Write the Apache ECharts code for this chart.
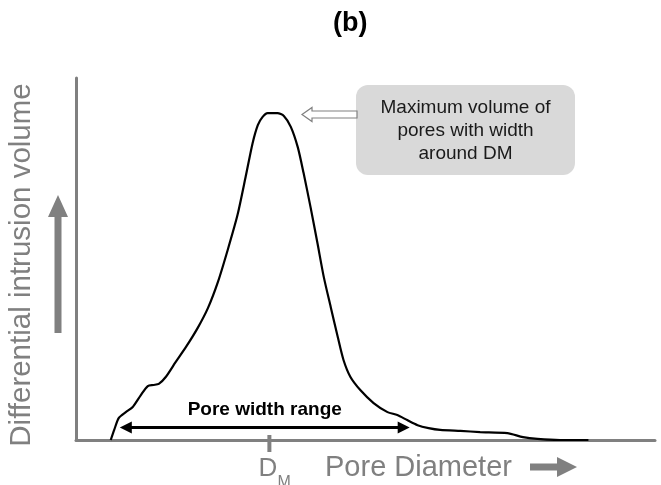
<!DOCTYPE html>
<html>
<head>
<meta charset="utf-8">
<script src="https://cdn.jsdelivr.net/npm/echarts@6/dist/echarts.min.js"></script>
<style>html,body{margin:0;padding:0;background:#fff}#c{width:661px;height:485px}</style>
</head>
<body>
<div id="c"></div>
<script>
// Pore diameter (arbitrary units, 0-100)
const poreDiameter = [6.0, 6.6, 7.4, 8.6, 9.8, 11.2, 12.4, 13.4, 14.3, 15.5, 17.2, 19.0, 21.0, 22.8, 24.5, 26.2, 27.9, 29.3, 30.5, 31.4, 32.2, 33.1, 34.0, 34.8, 35.9, 37.1, 38.3, 39.3, 40.5, 41.7, 42.8, 44.0, 45.2, 46.2, 47.4, 49.1, 51.4, 53.8, 55.5, 57.2, 59.0, 60.9, 62.9, 66.4, 69.8, 74.5, 77.2, 79.7, 83.6, 88.5];
// Differential intrusion volume (arbitrary units, 0-100)
const intrusionVolume = [0, 2.8, 6.1, 7.7, 9.1, 12.4, 14.9, 15.2, 15.5, 17.4, 21.5, 25.7, 30.9, 36.5, 43.6, 52.5, 62.2, 72.7, 82.0, 87.0, 89.2, 90.3, 90.3, 90.3, 89.5, 86.5, 80.9, 73.8, 64.4, 54.4, 45.0, 36.7, 28.5, 22.1, 17.4, 13.8, 10.2, 7.7, 6.9, 5.5, 4.1, 3.3, 2.8, 2.5, 2.2, 1.9, 0.8, 0.3, 0, 0];
const dmValue = 33.4;
const rangeStart = 8.6;
const rangeEnd = 56.6;
const rangeLevel = 3.45;
const titleText = '(b)';
const yName = 'Differential intrusion volume';
const xName = 'Pore Diameter';
const rangeText = 'Pore width range';
const boxLines = ['Maximum volume of', 'pores with width', 'around DM'];

const FONT = '"Liberation Sans", Arial, sans-serif';
const GRAY = '#808080';

const chart = echarts.init(document.getElementById('c'), null, {renderer: 'canvas'});
const option = {
  animation: false,
  backgroundColor: '#fff',
  title: {
    text: titleText, left: 333, top: 10, padding: 0,
    textStyle: {fontFamily: FONT, fontSize: 27, fontWeight: 'bold', color: '#000'}
  },
  grid: {left: 76, right: 6, top: 78, bottom: 45, containLabel: false},
  xAxis: {
    type: 'value', min: 0, max: 100,
    axisLine: {show: true, lineStyle: {color: GRAY, width: 3}},
    axisTick: {show: false}, axisLabel: {show: false}, splitLine: {show: false}
  },
  yAxis: {
    type: 'value', min: 0, max: 100,
    axisLine: {show: true, lineStyle: {color: GRAY, width: 3}},
    axisTick: {show: false}, axisLabel: {show: false}, splitLine: {show: false}
  },
  series: [{
    type: 'line',
    data: poreDiameter.map((x, i) => [x, intrusionVolume[i]]),
    showSymbol: false, symbol: 'none',
    smooth: 0.25,
    lineStyle: {color: '#000', width: 2.2},
    z: 5,
    markLine: {
      silent: true,
      symbol: ['triangle', 'triangle'],
      symbolSize: [12, 12],
      lineStyle: {color: '#000', width: 3, type: 'solid'},
      label: {
        show: true, position: 'middle', distance: 8,
        formatter: rangeText,
        fontFamily: FONT, fontSize: 19, fontWeight: 'bold', color: '#000'
      },
      data: [[{coord: [rangeStart, rangeLevel]}, {coord: [rangeEnd, rangeLevel]}]]
    }
  }]
};
chart.setOption(option);

const dmPx = chart.convertToPixel({xAxisIndex: 0}, dmValue);
const baseY = chart.convertToPixel({yAxisIndex: 0}, 0);

chart.setOption({
  graphic: [
    // D_M tick
    {type: 'rect', shape: {x: dmPx - 2, y: baseY - 5, width: 4, height: 17}, style: {fill: GRAY}, z: 10},
    {type: 'text', style: {text: 'D', x: dmPx - 11, y: baseY + 29, font: '26px ' + FONT, fill: GRAY, verticalAlign: 'middle', align: 'left'}},
    {type: 'text', style: {text: 'M', x: dmPx + 8, y: baseY + 43, font: '16px ' + FONT, fill: GRAY, verticalAlign: 'middle', align: 'left'}},
    // x axis name + arrow
    {type: 'text', style: {text: xName, x: 325, y: 468, font: '29px ' + FONT, fill: GRAY, verticalAlign: 'middle', align: 'left'}},
    {type: 'polygon', shape: {points: [[530, 463.5], [557, 463.5], [557, 457], [577, 467], [557, 477], [557, 470.5], [530, 470.5]]}, style: {fill: GRAY}},
    // y axis name + arrow
    {type: 'text', x: 22, y: 265, rotation: Math.PI / 2, style: {text: yName, x: 0, y: 0, font: '29.5px ' + FONT, fill: GRAY, verticalAlign: 'middle', align: 'center'}},
    {type: 'polygon', shape: {points: [[58, 195], [68, 217], [61.5, 217], [61.5, 333], [54.5, 333], [54.5, 217], [48, 217]]}, style: {fill: GRAY}},
    // annotation box
    {type: 'rect', shape: {x: 356, y: 85, width: 219, height: 90, r: 12}, style: {fill: '#d9d9d9'}},
    {type: 'text', style: {text: boxLines[0], x: 465.5, y: 108, font: '19px ' + FONT, fill: '#1a1a1a', align: 'center', verticalAlign: 'middle'}},
    {type: 'text', style: {text: boxLines[1], x: 465.5, y: 131, font: '19px ' + FONT, fill: '#1a1a1a', align: 'center', verticalAlign: 'middle'}},
    {type: 'text', style: {text: boxLines[2], x: 465.5, y: 154, font: '19px ' + FONT, fill: '#1a1a1a', align: 'center', verticalAlign: 'middle'}},
    // hollow arrow pointing to peak
    {type: 'polygon', shape: {points: [[302, 114.5], [312, 107.5], [312, 111], [357, 111], [357, 118], [312, 118], [312, 121.5]]}, style: {fill: '#fff', stroke: GRAY, lineWidth: 1.2}}
  ]
});
</script>
</body>
</html>
